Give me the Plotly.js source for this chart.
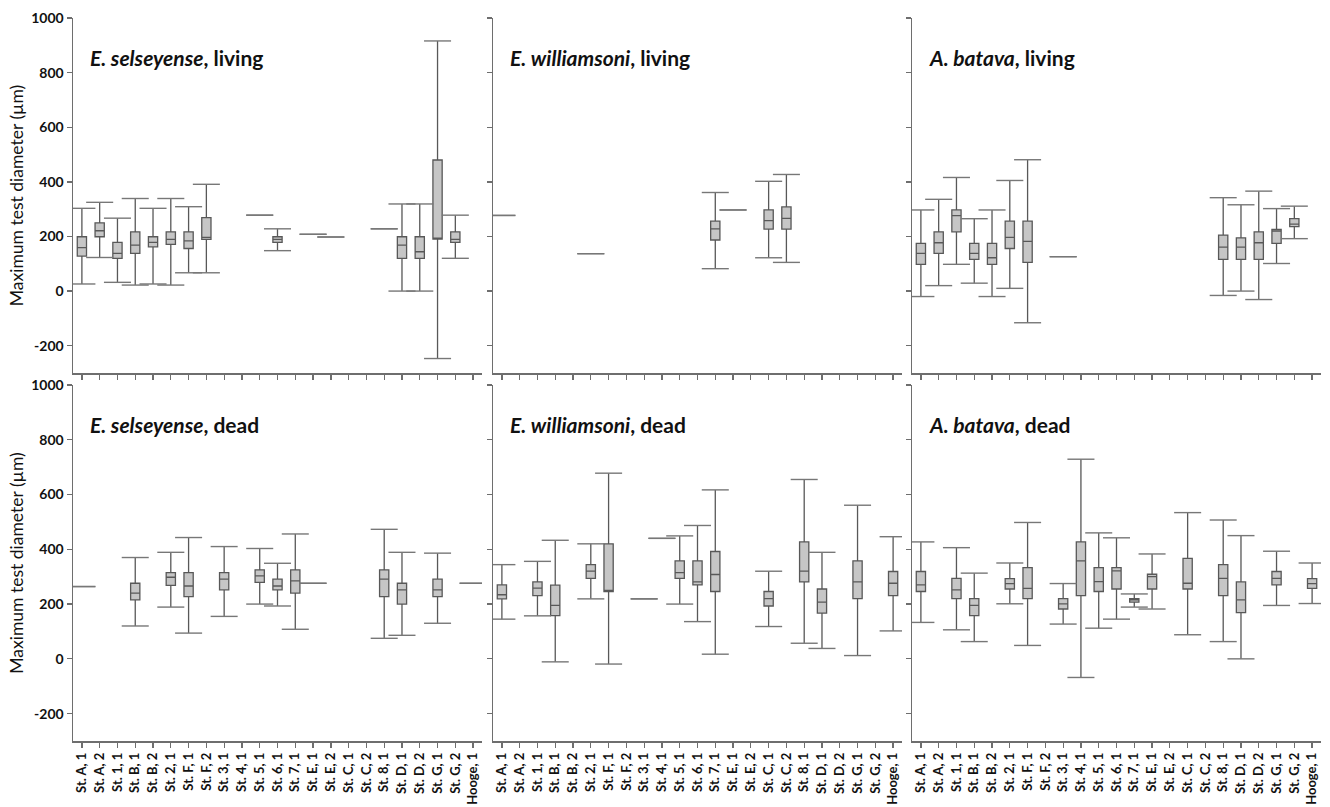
<!DOCTYPE html>
<html>
<head>
<meta charset="utf-8">
<script src="https://cdn.plot.ly/plotly-3.0.1.min.js"></script>
<style>html,body{margin:0;padding:0;background:#fff;}#chart{width:1330px;height:807px;}</style>
</head>
<body>
<div id="chart"></div>
<script>
// Categories (stations, sample)
const categories = ["St. A, 1","St. A, 2","St. 1, 1","St. B, 1","St. B, 2","St. 2, 1","St. F, 1","St. F, 2","St. 3, 1","St. 4, 1","St. 5, 1","St. 6, 1","St. 7, 1","St. E, 1","St. E, 2","St. C, 1","St. C, 2","St. 8, 1","St. D, 1","St. D, 2","St. G, 1","St. G, 2","Hooge, 1"];
const yTicks = [-200, 0, 200, 400, 600, 800, 1000];
const yTickText = ["-200", "0", "200", "400", "600", "800", "1000"];
const panelTitles = [
  "<b><i>E. selseyense</i>, living</b>", "<b><i>E. williamsoni</i>, living</b>", "<b><i>A. batava</i>, living</b>",
  "<b><i>E. selseyense</i>, dead</b>", "<b><i>E. williamsoni</i>, dead</b>", "<b><i>A. batava</i>, dead</b>"
];
const N = null;

// E. selseyense, living
const selLivMin = [26,123,32,22,26,22,67,67,N,N,278,148,N,208,198,N,N,228,0,0,-247,120,N];
const selLivQ1  = [128,199,120,138,162,171,156,189,N,N,N,178,N,N,N,N,N,N,120,120,190,178,N];
const selLivMed = [159,221,138,168,178,189,184,197,N,N,N,189,N,N,N,N,N,N,168,144,190,189,N];
const selLivQ3  = [199,250,178,217,199,217,217,269,N,N,N,199,N,N,N,N,N,N,199,199,480,217,N];
const selLivMax = [303,325,267,339,303,339,309,391,N,N,278,228,N,208,198,N,N,228,319,319,916,278,N];

// E. williamsoni, living
const wilLivMin = [277,N,N,N,N,137,N,N,N,N,N,N,82,297,N,122,105,N,N,N,N,N,N];
const wilLivQ1  = [N,N,N,N,N,N,N,N,N,N,N,N,187,N,N,227,227,N,N,N,N,N,N];
const wilLivMed = [N,N,N,N,N,N,N,N,N,N,N,N,228,N,N,258,266,N,N,N,N,N,N];
const wilLivQ3  = [N,N,N,N,N,N,N,N,N,N,N,N,256,N,N,297,308,N,N,N,N,N,N];
const wilLivMax = [277,N,N,N,N,137,N,N,N,N,N,N,361,297,N,402,427,N,N,N,N,N,N];

// A. batava, living
const batLivMin = [-20,20,98,29,-20,10,-116,N,126,N,N,N,N,N,N,N,N,-16,0,-31,101,192,N];
const batLivQ1  = [98,138,217,116,98,156,105,N,N,N,N,N,N,N,N,N,N,116,116,116,175,236,N];
const batLivMed = [138,177,276,138,122,197,182,N,N,N,N,N,N,N,N,N,N,161,161,177,220,245,N];
const batLivQ3  = [175,217,297,175,175,256,256,N,N,N,N,N,N,N,N,N,N,205,195,217,226,265,N];
const batLivMax = [297,336,416,265,297,405,481,N,126,N,N,N,N,N,N,N,N,342,316,366,302,311,N];

// E. selseyense, dead
const selDeadMin = [264,N,N,120,N,189,94,N,155,N,200,193,108,276,N,N,N,75,86,N,130,N,276];
const selDeadQ1  = [N,N,N,215,N,268,227,N,252,N,279,252,240,N,N,N,N,227,200,N,227,N,N];
const selDeadMed = [N,N,N,240,N,298,266,N,291,N,303,266,285,N,N,N,N,291,252,N,252,N,N];
const selDeadQ3  = [N,N,N,276,N,315,315,N,315,N,325,291,325,N,N,N,N,325,276,N,291,N,N];
const selDeadMax = [264,N,N,370,N,389,443,N,410,N,403,349,456,276,N,N,N,473,389,N,386,N,276];

// E. williamsoni, dead
const wilDeadMin = [145,N,157,-11,N,219,-19,N,219,440,200,136,17,N,N,118,N,57,38,N,12,N,102];
const wilDeadQ1  = [219,N,231,158,N,294,246,N,N,N,294,270,246,N,N,193,N,281,167,N,220,N,231];
const wilDeadMed = [234,N,258,195,N,320,248,N,N,N,315,281,308,N,N,220,N,320,207,N,281,N,276];
const wilDeadQ3  = [270,N,281,269,N,344,420,N,N,N,358,358,392,N,N,246,N,427,255,N,358,N,319];
const wilDeadMax = [344,N,356,433,N,420,678,N,219,440,449,487,617,N,N,320,N,655,389,N,561,N,446];

// A. batava, dead
const batDeadMin = [133,N,106,63,N,201,49,N,127,-68,112,145,189,182,N,88,N,63,0,N,195,N,202];
const batDeadQ1  = [246,N,220,158,N,255,220,N,182,231,246,255,207,255,N,255,N,231,169,N,270,N,257];
const batDeadMed = [270,N,252,195,N,275,257,N,201,358,282,321,215,300,N,276,N,294,215,N,294,N,275];
const batDeadQ3  = [319,N,294,220,N,293,333,N,220,427,333,333,220,309,N,367,N,344,281,N,319,N,293];
const batDeadMax = [427,N,406,313,N,350,498,N,275,729,460,442,237,383,N,534,N,507,450,N,393,N,350];

const panels = [
  {min: selLivMin, q1: selLivQ1, med: selLivMed, q3: selLivQ3, max: selLivMax},
  {min: wilLivMin, q1: wilLivQ1, med: wilLivMed, q3: wilLivQ3, max: wilLivMax},
  {min: batLivMin, q1: batLivQ1, med: batLivMed, q3: batLivQ3, max: batLivMax},
  {min: selDeadMin, q1: selDeadQ1, med: selDeadMed, q3: selDeadQ3, max: selDeadMax},
  {min: wilDeadMin, q1: wilDeadQ1, med: wilDeadMed, q3: wilDeadQ3, max: wilDeadMax},
  {min: batDeadMin, q1: batDeadQ1, med: batDeadMed, q3: batDeadQ3, max: batDeadMax}
];

const FONT = "Lato, 'Open Sans', sans-serif";
const BOX_LINE = "#585858", BOX_FILL = "#c6c6c6", WHISK = "#777777", AXIS = "#6e6e6e";
const CAP_HALF = 0.76, BOX_W = 0.52;

const W = 1330, H = 807;
const xDom = [[73, 482], [493, 902], [912, 1321]];
const yDom = [[18, 373], [385, 741]];

const data = [];
const layout = {
  width: W, height: H,
  margin: {l: 0, r: 0, t: 0, b: 0},
  paper_bgcolor: "#fff", plot_bgcolor: "rgba(0,0,0,0)",
  showlegend: false,
  font: {family: FONT, color: "#111"},
  annotations: []
};

panels.forEach((p, k) => {
  const row = Math.floor(k / 3), col = k % 3;
  const idx = k + 1;
  const xa = idx === 1 ? "x" : "x" + idx, ya = idx === 1 ? "y" : "y" + idx;
  const xkey = idx === 1 ? "xaxis" : "xaxis" + idx, ykey = idx === 1 ? "yaxis" : "yaxis" + idx;

  // boxes (with whiskers, no caps)
  const bx = [], bq1 = [], bmed = [], bq3 = [], blo = [], bhi = [];
  categories.forEach((c, i) => {
    if (p.q1[i] !== null) {
      bx.push(i); bq1.push(p.q1[i]); bmed.push(p.med[i]); bq3.push(p.q3[i]);
      blo.push(p.min[i]); bhi.push(p.max[i]);
    }
  });
  data.push({
    type: "box", xaxis: xa, yaxis: ya,
    x: bx, q1: bq1, median: bmed, q3: bq3, lowerfence: blo, upperfence: bhi,
    boxpoints: false, width: BOX_W, whiskerwidth: 0,
    fillcolor: BOX_FILL, line: {color: BOX_LINE, width: 1.3},
    hoverinfo: "skip"
  });

  // caps (wider than boxes), drawn from min/max values
  const cx = [], cy = [];
  categories.forEach((c, i) => {
    if (p.max[i] !== null) {
      cx.push(i - CAP_HALF, i + CAP_HALF, null, i - CAP_HALF, i + CAP_HALF, null);
      cy.push(p.max[i], p.max[i], null, p.min[i], p.min[i], null);
    }
  });
  data.push({
    type: "scatter", mode: "lines", xaxis: xa, yaxis: ya,
    x: cx, y: cy, line: {color: WHISK, width: 1.4}, hoverinfo: "skip"
  });

  layout[xkey] = {
    domain: [xDom[col][0] / W, xDom[col][1] / W],
    anchor: ya,
    range: [-0.5, categories.length - 0.5],
    tickmode: "array",
    tickvals: categories.map((c, i) => i),
    ticktext: categories,
    showticklabels: row === 1,
    tickangle: -90,
    tickfont: {family: FONT, size: 13, color: "#111", weight: "bold"},
    ticks: "outside", ticklen: 5, tickwidth: 1.3, tickcolor: AXIS,
    showline: true, linecolor: AXIS, linewidth: 1.5,
    showgrid: false, zeroline: false, fixedrange: true
  };
  layout[ykey] = {
    domain: [(H - yDom[row][1]) / H, (H - yDom[row][0]) / H],
    anchor: xa,
    range: [-300, 1000],
    tickmode: "array", tickvals: yTicks, ticktext: yTickText,
    showticklabels: col === 0,
    tickfont: {family: FONT, size: 14, color: "#111", weight: "bold"},
    ticks: "outside", ticklen: 5, tickwidth: 1.3, tickcolor: AXIS,
    showline: true, linecolor: AXIS, linewidth: 1.5,
    showgrid: false, zeroline: false, fixedrange: true,
    title: col === 0 ? {text: "Maximum test diameter (µm)", font: {family: FONT, size: 17.5, color: "#111"}, standoff: 3} : {text: ""}
  };

  layout.annotations.push({
    text: panelTitles[k],
    xref: xa + " domain", yref: ya + " domain",
    x: 0.037, y: 0.89, xanchor: "left", yanchor: "middle",
    showarrow: false,
    font: {family: FONT, size: 21, color: "#111"}
  });
});

Plotly.newPlot("chart", data, layout, {displayModeBar: false, staticPlot: true});
</script>
</body>
</html>
